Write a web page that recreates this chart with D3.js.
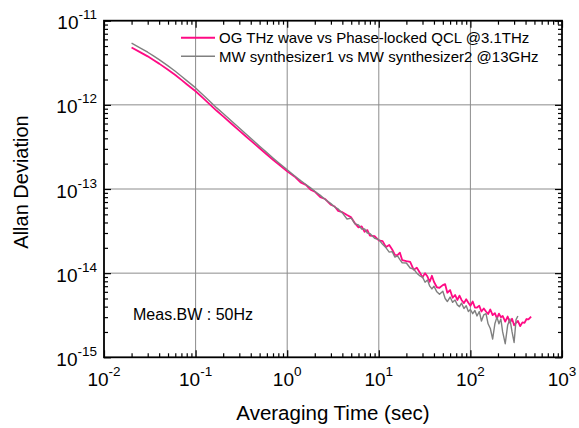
<!DOCTYPE html>
<html>
<head>
<meta charset="utf-8">
<script src="https://cdn.jsdelivr.net/npm/d3@7"></script>
<style>
body { margin: 0; background: #fff; }
text { font-family: "Liberation Sans", Arial, Helvetica, sans-serif; fill: #000; }
</style>
</head>
<body>
<svg id="chart" width="579" height="428"></svg>
<script>
// averaging times (sec)
const tau = [0.02, 0.025, 0.03, 0.035, 0.04, 0.05, 0.06, 0.07, 0.08, 0.1,
  0.12, 0.14, 0.17, 0.2, 0.25, 0.3, 0.35, 0.4, 0.5, 0.6, 0.7, 0.8, 1.0,
  1.2, 1.4, 1.6, 1.8, 2.0, 2.3, 2.6, 3.0, 3.3, 3.6, 4.0, 4.5, 5.0, 5.5, 6.0, 6.5, 7.0, 7.5, 8.0, 9.0,
  10, 11, 12, 13, 14, 15, 16, 17, 18, 20, 22, 24, 26, 28, 30, 32, 34, 36, 38, 40, 43, 46,
  50, 53, 56, 60, 64, 68, 72, 76, 80, 85, 90, 95, 100, 106, 112, 118, 125, 132, 140, 148,
  156, 165, 175, 185, 195, 205, 215, 225, 240, 255, 270, 285, 300, 315, 330,
  350, 370, 390, 410, 430, 460];

// OG THz wave vs phase-locked QCL
const thzQcl = [4.80e-12, 4.20e-12, 3.77e-12, 3.39e-12, 3.09e-12, 2.61e-12, 2.26e-12, 1.98e-12, 1.76e-12, 1.45e-12,
  1.21e-12, 1.035e-12, 8.5e-13, 7.3e-13, 5.88e-13, 4.93e-13, 4.26e-13, 3.76e-13, 3.05e-13, 2.57e-13, 2.23e-13, 1.98e-13, 1.62e-13,
  1.41e-13, 1.20e-13, 1.12e-13, 9.8e-14, 9.3e-14, 8.0e-14, 7.6e-14, 6.5e-14, 6.2e-14, 5.5e-14, 5.3e-14, 4.9e-14, 4.6e-14, 3.9e-14, 3.5e-14, 3.6e-14, 3.1e-14, 3.25e-14, 2.8e-14, 2.75e-14,
  2.45e-14, 2.4e-14, 2.04e-14, 2.16e-14, 1.91e-14, 1.65e-14, 1.64e-14, 1.75e-14, 1.43e-14, 1.39e-14, 1.36e-14, 1.1e-14, 1.16e-14, 1.02e-14, 8.9e-15, 1.0e-14, 9.1e-15, 7.9e-15, 9.3e-15, 7.9e-15, 6.8e-15, 6.7e-15,
  7.2e-15, 7.4e-15, 5.85e-15, 6.3e-15, 5.1e-15, 5.5e-15, 4.8e-15, 5.4e-15, 4.8e-15, 4.4e-15, 4.9e-15, 4.45e-15, 4.1e-15, 4.6e-15, 3.9e-15, 3.9e-15, 4.1e-15, 3.5e-15, 3.8e-15, 3.5e-15,
  3.27e-15, 3.7e-15, 3.17e-15, 3.35e-15, 2.9e-15, 3.3e-15, 3.0e-15, 3.1e-15, 2.65e-15, 3.05e-15, 2.58e-15, 2.87e-15, 2.4e-15, 2.57e-15, 2.7e-15,
  2.35e-15, 2.6e-15, 2.57e-15, 2.85e-15, 2.82e-15, 3.05e-15];

// MW synthesizer1 vs MW synthesizer2 (stops at 330 s)
const mwSynth = [5.40e-12, 4.73e-12, 4.22e-12, 3.79e-12, 3.45e-12, 2.90e-12, 2.51e-12, 2.19e-12, 1.94e-12, 1.59e-12,
  1.32e-12, 1.125e-12, 9.2e-13, 7.9e-13, 6.35e-13, 5.3e-13, 4.56e-13, 4.0e-13, 3.23e-13, 2.71e-13, 2.34e-13, 2.07e-13, 1.69e-13,
  1.44e-13, 1.26e-13, 1.13e-13, 1.03e-13, 9.4e-14, 8.4e-14, 7.5e-14, 6.7e-14, 6.1e-14, 5.8e-14, 5.2e-14, 4.4e-14, 4.5e-14, 3.85e-14, 3.75e-14, 3.35e-14, 3.35e-14, 3.0e-14, 2.95e-14, 2.6e-14,
  2.5e-14, 2.2e-14, 2.0e-14, 1.78e-14, 1.8e-14, 1.55e-14, 1.6e-14, 1.45e-14, 1.33e-14, 1.32e-14, 1.15e-14, 1.12e-14, 1.0e-14, 9.3e-15, 9.0e-15, 7.8e-15, 8.3e-15, 7.0e-15, 6.5e-15, 7.0e-15, 6.0e-15, 5.6e-15,
  6.1e-15, 5.0e-15, 4.6e-15, 5.2e-15, 4.5e-15, 4.8e-15, 4.2e-15, 4.0e-15, 4.4e-15, 3.8e-15, 4.1e-15, 3.5e-15, 3.7e-15, 3.3e-15, 3.6e-15, 3.1e-15, 3.5e-15, 2.7e-15, 3.2e-15, 3.3e-15,
  2.5e-15, 2.2e-15, 1.65e-15, 2.5e-15, 3.0e-15, 2.5e-15, 2.85e-15, 2.0e-15, 1.45e-15, 2.4e-15, 2.85e-15, 2.0e-15, 1.5e-15, 2.8e-15, 3.1e-15];

const seriesNames = ["OG THz wave vs Phase-locked QCL @3.1THz", "MW synthesizer1 vs MW synthesizer2 @13GHz"];
const seriesColors = ["#ff0a84", "#808080"];
const xExponents = [-2, -1, 0, 1, 2, 3];
const yExponents = [-15, -14, -13, -12, -11];

const plotL = 104, plotR = 562, plotT = 20.7, plotB = 357.3;

const svg = d3.select("#chart");

const x = d3.scaleLog().domain([1e-2, 1e3]).range([plotL, plotR]);
const y = d3.scaleLog().domain([1e-15, 1e-11]).range([plotB, plotT]);

const xMajor = xExponents.map(e => Math.pow(10, e));
const yMajor = yExponents.map(e => Math.pow(10, e));
const isMajor = v => Math.abs(Math.log10(v) - Math.round(Math.log10(v))) < 1e-6;
const xMinor = x.ticks().filter(v => !isMajor(v));
const yMinor = y.ticks().filter(v => !isMajor(v));

// grid
svg.append("g").selectAll("line").data(xMajor.slice(1, -1)).join("line")
  .attr("x1", d => x(d)).attr("x2", d => x(d))
  .attr("y1", plotT).attr("y2", plotB)
  .attr("stroke", "#8c8c8c").attr("stroke-width", 1);
svg.append("g").selectAll("line").data(yMajor.slice(1, -1)).join("line")
  .attr("y1", d => y(d)).attr("y2", d => y(d))
  .attr("x1", plotL).attr("x2", plotR)
  .attr("stroke", "#8c8c8c").attr("stroke-width", 1);

// curves
const line = d3.line().x(d => x(d[0])).y(d => y(d[1]));
const series = [d3.zip(tau, thzQcl), d3.zip(tau, mwSynth)];
svg.append("g").selectAll("path").data(series).join("path")
  .attr("d", line)
  .attr("fill", "none")
  .attr("stroke", (d, i) => seriesColors[i])
  .attr("stroke-width", (d, i) => i == 0 ? 1.8 : 1.4)
  .attr("stroke-linejoin", "round");

// ticks on all four sides, pointing in
function ticks(axis, vals, len) {
  return g => g.call(axis.tickValues(vals).tickSize(len).tickFormat(""))
    .call(g => g.select(".domain").remove())
    .call(g => g.selectAll("line").attr("stroke", "#000").attr("stroke-width", 1.2));
}
svg.append("g").attr("transform", `translate(0,${plotB})`).call(ticks(d3.axisBottom(x), xMinor, -4));
svg.append("g").attr("transform", `translate(0,${plotB})`).call(ticks(d3.axisBottom(x), xMajor, -7));
svg.append("g").attr("transform", `translate(0,${plotT})`).call(ticks(d3.axisTop(x), xMinor, -4));
svg.append("g").attr("transform", `translate(0,${plotT})`).call(ticks(d3.axisTop(x), xMajor, -7));
svg.append("g").attr("transform", `translate(${plotL},0)`).call(ticks(d3.axisLeft(y), yMinor, -4));
svg.append("g").attr("transform", `translate(${plotL},0)`).call(ticks(d3.axisLeft(y), yMajor, -7));
svg.append("g").attr("transform", `translate(${plotR},0)`).call(ticks(d3.axisRight(y), yMinor, -4));
svg.append("g").attr("transform", `translate(${plotR},0)`).call(ticks(d3.axisRight(y), yMajor, -7));

// frame
svg.append("rect")
  .attr("x", plotL).attr("y", plotT)
  .attr("width", plotR - plotL).attr("height", plotB - plotT)
  .attr("fill", "none").attr("stroke", "#000").attr("stroke-width", 1.8);

// tick labels with superscript exponents
svg.append("g").selectAll("text").data(xExponents).join("text")
  .attr("x", d => x(Math.pow(10, d)))
  .attr("y", plotB + 29)
  .attr("text-anchor", "middle")
  .style("font-size", "19px")
  .each(function (d) {
    const t = d3.select(this);
    t.append("tspan").text("10");
    t.append("tspan").attr("dy", -10).style("font-size", "13.5px").text(d);
  });

svg.append("g").selectAll("text").data(yExponents).join("text")
  .attr("x", plotL - 7)
  .attr("y", d => y(Math.pow(10, d)) + 8.5)
  .attr("text-anchor", "end")
  .style("font-size", "19px")
  .each(function (d) {
    const t = d3.select(this);
    t.append("tspan").text("10");
    t.append("tspan").attr("dy", -10).style("font-size", "13.5px").text(d);
  });

// axis titles
svg.append("text")
  .attr("x", (plotL + plotR) / 2).attr("y", 420)
  .attr("text-anchor", "middle")
  .style("font-size", "20.5px")
  .text("Averaging Time (sec)");

svg.append("text")
  .attr("transform", "translate(28,182) rotate(-90)")
  .attr("text-anchor", "middle")
  .style("font-size", "20px")
  .text("Allan Deviation");

// legend
const legend = svg.append("g").selectAll("g").data(seriesNames).join("g")
  .attr("transform", (d, i) => `translate(181,${37.7 + i * 18.5})`);
legend.append("line")
  .attr("x1", 0).attr("x2", 34)
  .attr("stroke", (d, i) => seriesColors[i])
  .attr("stroke-width", (d, i) => i == 0 ? 2 : 1.5);
legend.append("text")
  .attr("x", 38).attr("y", 5.4)
  .style("font-size", "15px")
  .text(d => d);

svg.append("text")
  .attr("x", 133).attr("y", 320)
  .style("font-size", "16px")
  .text("Meas.BW : 50Hz");
</script>
</body>
</html>
